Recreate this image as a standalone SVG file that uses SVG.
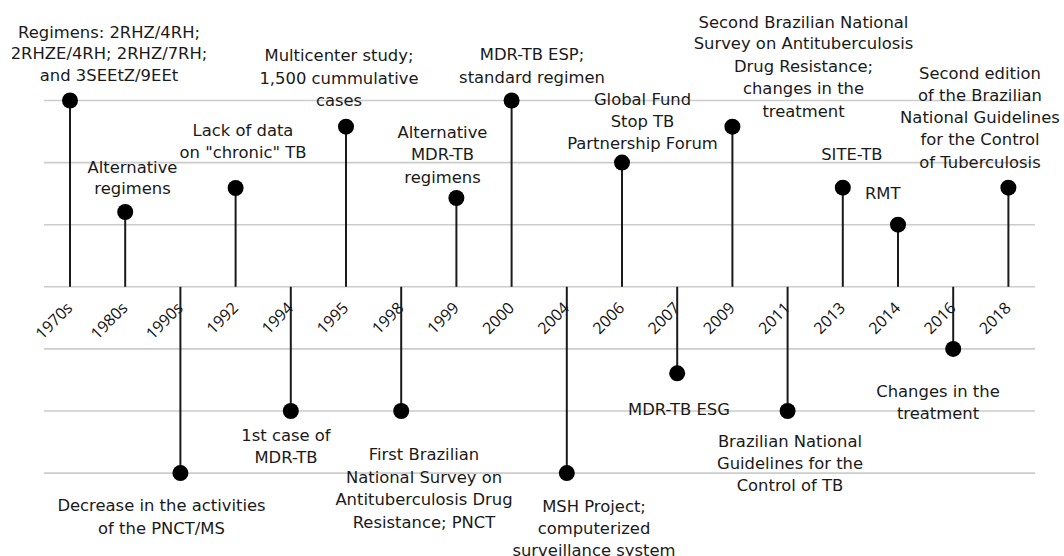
<svg xmlns="http://www.w3.org/2000/svg" width="1064" height="556" viewBox="0 0 1064 556">
<style>
.grid{stroke:#cccccc;stroke-width:1.6;fill:none}
.stem{stroke:#1a1a1a;stroke-width:2;fill:none}
.dot{fill:#000}
.lbl{font-family:"DejaVu Sans",sans-serif;font-size:16.4px;fill:#1a1a1a;text-anchor:middle}
.yr{font-family:"Open Sans","Noto Sans",sans-serif;font-size:16px;fill:#111;text-anchor:end}
</style>
<rect width="1064" height="556" fill="#fff"/>
<g id="grid">
<line class="grid" x1="44" y1="100.5" x2="1035" y2="100.5"/>
<line class="grid" x1="44" y1="162.6" x2="1035" y2="162.6"/>
<line class="grid" x1="44" y1="224.7" x2="1035" y2="224.7"/>
<line class="grid" x1="44" y1="286.8" x2="1035" y2="286.8"/>
<line class="grid" x1="44" y1="348.9" x2="1035" y2="348.9"/>
<line class="grid" x1="44" y1="411" x2="1035" y2="411"/>
<line class="grid" x1="44" y1="473.1" x2="1035" y2="473.1"/>
</g>
<g id="axis-labels">
<text class="yr" transform="translate(73.5,309) rotate(-45)">1970s</text>
<text class="yr" transform="translate(128.7,309) rotate(-45)">1980s</text>
<text class="yr" transform="translate(183.9,309) rotate(-45)">1990s</text>
<text class="yr" transform="translate(239.1,309) rotate(-45)">1992</text>
<text class="yr" transform="translate(294.3,309) rotate(-45)">1994</text>
<text class="yr" transform="translate(349.5,309) rotate(-45)">1995</text>
<text class="yr" transform="translate(404.7,309) rotate(-45)">1998</text>
<text class="yr" transform="translate(459.9,309) rotate(-45)">1999</text>
<text class="yr" transform="translate(515.1,309) rotate(-45)">2000</text>
<text class="yr" transform="translate(570.3,309) rotate(-45)">2004</text>
<text class="yr" transform="translate(625.5,309) rotate(-45)">2006</text>
<text class="yr" transform="translate(680.7,309) rotate(-45)">2007</text>
<text class="yr" transform="translate(735.9,309) rotate(-45)">2009</text>
<text class="yr" transform="translate(791.1,309) rotate(-45)">2011</text>
<text class="yr" transform="translate(846.3,309) rotate(-45)">2013</text>
<text class="yr" transform="translate(901.5,309) rotate(-45)">2014</text>
<text class="yr" transform="translate(956.7,309) rotate(-45)">2016</text>
<text class="yr" transform="translate(1011.9,309) rotate(-45)">2018</text>
</g>
<g id="connectors">
<line class="stem" x1="70" y1="100.5" x2="70" y2="286.8"/>
<line class="stem" x1="125.2" y1="212" x2="125.2" y2="286.8"/>
<line class="stem" x1="180.4" y1="286.8" x2="180.4" y2="473.1"/>
<line class="stem" x1="235.6" y1="188" x2="235.6" y2="286.8"/>
<line class="stem" x1="290.8" y1="286.8" x2="290.8" y2="411"/>
<line class="stem" x1="346" y1="126.7" x2="346" y2="286.8"/>
<line class="stem" x1="401.2" y1="286.8" x2="401.2" y2="411"/>
<line class="stem" x1="456.4" y1="198" x2="456.4" y2="286.8"/>
<line class="stem" x1="511.6" y1="100.5" x2="511.6" y2="286.8"/>
<line class="stem" x1="566.8" y1="286.8" x2="566.8" y2="473.1"/>
<line class="stem" x1="622" y1="162.6" x2="622" y2="286.8"/>
<line class="stem" x1="677.2" y1="286.8" x2="677.2" y2="373.3"/>
<line class="stem" x1="732.4" y1="126.7" x2="732.4" y2="286.8"/>
<line class="stem" x1="787.6" y1="286.8" x2="787.6" y2="411"/>
<line class="stem" x1="842.8" y1="187.7" x2="842.8" y2="286.8"/>
<line class="stem" x1="898" y1="224.7" x2="898" y2="286.8"/>
<line class="stem" x1="953.2" y1="286.8" x2="953.2" y2="348.9"/>
<line class="stem" x1="1008.4" y1="187.7" x2="1008.4" y2="286.8"/>
</g>
<g id="e1970s"><circle class="dot" cx="70" cy="100.5" r="8"/>
<text class="lbl"><tspan x="109" y="37.7">Regimens: 2RHZ/4RH;</tspan><tspan x="109" y="59.3">2RHZE/4RH; 2RHZ/7RH;</tspan><tspan x="109" y="81">and 3SEEtZ/9EEt</tspan></text></g>
<g id="e1980s"><circle class="dot" cx="125.2" cy="212" r="8"/>
<text class="lbl"><tspan x="132.5" y="172.7">Alternative</tspan><tspan x="132.5" y="194.3">regimens</tspan></text></g>
<g id="e1990s"><circle class="dot" cx="180.4" cy="473.1" r="8"/>
<text class="lbl"><tspan x="161.5" y="511">Decrease in the activities</tspan><tspan x="161.5" y="534.3">of the PNCT/MS</tspan></text></g>
<g id="e1992"><circle class="dot" cx="235.6" cy="188" r="8"/>
<text class="lbl"><tspan x="243" y="136">Lack of data</tspan><tspan x="243" y="157.7">on "chronic" TB</tspan></text></g>
<g id="e1994"><circle class="dot" cx="290.8" cy="411" r="8"/>
<text class="lbl"><tspan x="286" y="441">1st case of</tspan><tspan x="286" y="462.7">MDR-TB</tspan></text></g>
<g id="e1995"><circle class="dot" cx="346" cy="126.7" r="8"/>
<text class="lbl"><tspan x="339" y="61">Multicenter study;</tspan><tspan x="339" y="83.5">1,500 cummulative</tspan><tspan x="339" y="106">cases</tspan></text></g>
<g id="e1998"><circle class="dot" cx="401.2" cy="411" r="8"/>
<text class="lbl"><tspan x="424" y="460.3">First Brazilian</tspan><tspan x="424" y="482.7">National Survey on</tspan><tspan x="424" y="505">Antituberculosis Drug</tspan><tspan x="424" y="527.7">Resistance; PNCT</tspan></text></g>
<g id="e1999"><circle class="dot" cx="456.4" cy="198" r="8"/>
<text class="lbl"><tspan x="442.5" y="137.7">Alternative</tspan><tspan x="442.5" y="160">MDR-TB</tspan><tspan x="442.5" y="182.7">regimens</tspan></text></g>
<g id="e2000"><circle class="dot" cx="511.6" cy="100.5" r="8"/>
<text class="lbl"><tspan x="532" y="60.3">MDR-TB ESP;</tspan><tspan x="532" y="82.7">standard regimen</tspan></text></g>
<g id="e2004"><circle class="dot" cx="566.8" cy="473.1" r="8"/>
<text class="lbl"><tspan x="594" y="512">MSH Project;</tspan><tspan x="594" y="534.3">computerized</tspan><tspan x="594" y="556">surveillance system</tspan></text></g>
<g id="e2006"><circle class="dot" cx="622" cy="162.6" r="8"/>
<text class="lbl"><tspan x="642.5" y="105">Global Fund</tspan><tspan x="642.5" y="126.7">Stop TB</tspan><tspan x="642.5" y="149.3">Partnership Forum</tspan></text></g>
<g id="e2007"><circle class="dot" cx="677.2" cy="373.3" r="8"/>
<text class="lbl"><tspan x="679" y="415">MDR-TB ESG</tspan></text></g>
<g id="e2009"><circle class="dot" cx="732.4" cy="126.7" r="8"/>
<text class="lbl"><tspan x="803.5" y="27.7">Second Brazilian National</tspan><tspan x="803.5" y="49.3">Survey on Antituberculosis</tspan><tspan x="803.5" y="72">Drug Resistance;</tspan><tspan x="803.5" y="94.3">changes in the</tspan><tspan x="803.5" y="117">treatment</tspan></text></g>
<g id="e2011"><circle class="dot" cx="787.6" cy="411" r="8"/>
<text class="lbl"><tspan x="790" y="446.7">Brazilian National</tspan><tspan x="790" y="468.7">Guidelines for the</tspan><tspan x="790" y="491">Control of TB</tspan></text></g>
<g id="e2013"><circle class="dot" cx="842.8" cy="187.7" r="8"/>
<text class="lbl"><tspan x="851.8" y="160">SITE-TB</tspan></text></g>
<g id="e2014"><circle class="dot" cx="898" cy="224.7" r="8"/>
<text class="lbl"><tspan x="882.7" y="199.3">RMT</tspan></text></g>
<g id="e2016"><circle class="dot" cx="953.2" cy="348.9" r="8"/>
<text class="lbl"><tspan x="938" y="397">Changes in the</tspan><tspan x="938" y="419.3">treatment</tspan></text></g>
<g id="e2018"><circle class="dot" cx="1008.4" cy="187.7" r="8"/>
<text class="lbl"><tspan x="980" y="79.3">Second edition</tspan><tspan x="980" y="101">of the Brazilian</tspan><tspan x="980" y="122.7">National Guidelines</tspan><tspan x="980" y="145.3">for the Control</tspan><tspan x="980" y="167.7">of Tuberculosis</tspan></text></g>
</svg>
